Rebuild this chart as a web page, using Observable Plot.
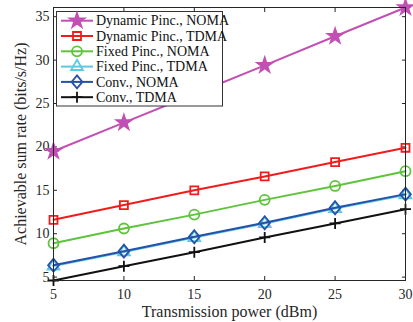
<!DOCTYPE html>
<html><head><meta charset="utf-8">
<script src="https://cdn.jsdelivr.net/npm/d3@7"></script>
<script src="https://cdn.jsdelivr.net/npm/@observablehq/plot@0.6"></script>
<style>
body{margin:0;background:#fff}
#chart{position:relative;width:413px;height:322px}
#chart svg.leg{position:absolute;left:0;top:0;pointer-events:none;font-family:'Liberation Serif','Times New Roman',serif}
</style>
</head><body><div id="chart"></div>
<script>
const power = [5, 10, 15, 20, 25, 30];
const dynNoma = [19.5, 22.8, 26.1, 29.4, 32.75, 36.06];
const dynTdma = [11.6, 13.3, 15.0, 16.6, 18.25, 19.9];
const fixNoma = [8.9, 10.6, 12.2, 13.9, 15.5, 17.2];
const fixTdma = [6.27, 7.89, 9.55, 11.16, 12.89, 14.46];
const convNoma = [6.37, 7.99, 9.65, 11.26, 12.99, 14.56];
const convTdma = [4.61, 6.26, 7.87, 9.57, 11.18, 12.83];
const seriesNames = ["Dynamic Pinc., NOMA", "Dynamic Pinc., TDMA", "Fixed Pinc., NOMA", "Fixed Pinc., TDMA", "Conv., NOMA", "Conv., TDMA"];
const seriesValues = [dynNoma, dynTdma, fixNoma, fixTdma, convNoma, convTdma];
const xTicks = [5, 10, 15, 20, 25, 30];
const yTicks = [5, 10, 15, 20, 25, 30, 35];
const xLabel = "Transmission power (dBm)";
const yLabel = "Achievable sum rate (bits/s/Hz)";

const serif = "'Liberation Serif', 'Times New Roman', serif";
const plusSym = {draw(ctx, size) { const r = Math.sqrt(size / Math.PI); ctx.moveTo(-r, 0); ctx.lineTo(r, 0); ctx.moveTo(0, -r); ctx.lineTo(0, r); }};
const diamondSym = {draw(ctx, size) { const r = Math.sqrt(size / Math.PI); const h = r * 1.2, w = r; ctx.moveTo(0, -h); ctx.lineTo(w, 0); ctx.lineTo(0, h); ctx.lineTo(-w, 0); ctx.closePath(); }};

const styles = [
  {color: "#c250b4", symbol: d3.symbolStar, r: 4.6, fill: "#c250b4"},
  {color: "#f01c1c", symbol: d3.symbolSquare, r: 4.5, fill: "none"},
  {color: "#5ec43c", symbol: d3.symbolCircle, r: 5, fill: "none"},
  {color: "#5ec8e2", symbol: d3.symbolTriangle, r: 4.4, fill: "none"},
  {color: "#2452a8", symbol: diamondSym, r: 5.4, fill: "none"},
  {color: "#111111", symbol: plusSym, r: 5.5, fill: "none"}
];

const table = seriesNames.map((name, i) => power.map((p, j) => ({name, power: p, rate: seriesValues[i][j]})));
const all = seriesValues.flat();

const marks = [];
table.forEach((rows, i) => {
  const s = styles[i];
  marks.push(Plot.line(rows, {x: "power", y: "rate", stroke: s.color, strokeWidth: 2}));
  marks.push(Plot.dot(rows, {x: "power", y: "rate", symbol: () => s.symbol, r: s.r, stroke: s.color, fill: s.fill, strokeWidth: 1.8}));
});

const ink = "#262626";
const chart = Plot.plot({
  width: 413, height: 322,
  marginLeft: 53, marginRight: 8, marginTop: 7, marginBottom: 42,
  style: {fontFamily: serif, fontSize: "14px", color: ink, background: "white"},
  x: {domain: [d3.min(power), d3.max(power)]},
  y: {domain: [d3.min(all), d3.max(all)]},
  symbol: {type: "identity"},
  marks: [
    Plot.axisX(xTicks, {anchor: "bottom", tickSize: -4, tickPadding: 13, label: null, fontSize: 14}),
    Plot.axisX(xTicks, {anchor: "top", tickSize: -4, tickFormat: () => "", label: null}),
    Plot.axisY(yTicks, {anchor: "left", tickSize: -4, tickPadding: 8, label: null, fontSize: 14}),
    Plot.axisY(yTicks, {anchor: "right", tickSize: -4, tickFormat: () => "", label: null}),
    ...marks,
    Plot.frame({stroke: ink, strokeWidth: 1}),
    Plot.text([xLabel], {frameAnchor: "bottom", lineAnchor: "middle", textAnchor: "middle", dy: 31, fontSize: 16, fontFamily: serif, fill: ink}),
    Plot.text([yLabel], {frameAnchor: "left", lineAnchor: "middle", textAnchor: "middle", dx: -33, rotate: -90, fontSize: 16, fontFamily: serif, fill: ink})
  ]
});
const root = document.getElementById("chart");
root.appendChild(chart);

// legend overlay
const leg = d3.select(root).append("svg").attr("class", "leg").attr("width", 413).attr("height", 322);
const lx = 56.5, ly = 11.5, lw = 166, lh = 94.5, rowH = 15.3;
leg.append("rect").attr("x", lx).attr("y", ly).attr("width", lw).attr("height", lh)
  .attr("fill", "white").attr("stroke", "#333").attr("stroke-width", 1);
seriesNames.forEach((name, i) => {
  const s = styles[i];
  const cy = ly + 9.2 + i * rowH;
  const g = leg.append("g");
  g.append("line").attr("x1", lx + 4.5).attr("x2", lx + 36.5).attr("y1", cy).attr("y2", cy)
    .attr("stroke", s.color).attr("stroke-width", 2);
  g.append("path").attr("d", d3.symbol(s.symbol, Math.PI * s.r * s.r)())
    .attr("transform", `translate(${lx + 20.5},${cy})`)
    .attr("fill", s.fill).attr("stroke", s.color).attr("stroke-width", 1.8);
  g.append("text").attr("x", lx + 39.5).attr("y", cy).attr("dy", "0.34em")
    .style("font-family", serif).style("font-size", "14px")
    .attr("fill", "#111").text(name);
});
</script>
</body></html>
